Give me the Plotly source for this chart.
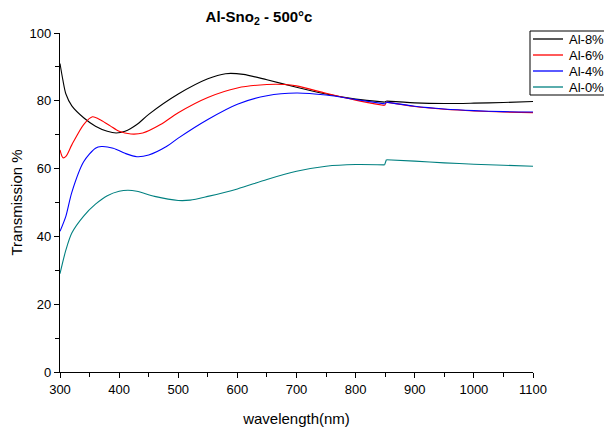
import plotly.graph_objects as go

wl_8 = [300, 305, 310, 320, 340, 360, 380, 395, 410, 430, 450, 500, 550, 580, 610, 650, 700, 750, 800, 849, 852, 900, 950, 1000, 1050, 1100]
t_8 = [91, 86, 82, 78.5, 75, 72.5, 71, 70.5, 71, 73, 76, 82, 86.5, 88, 87.8, 86.2, 84, 82, 80.5, 79.6, 79.9, 79.4, 79.2, 79.3, 79.5, 79.8]

wl_6 = [300, 305, 310, 320, 340, 355, 370, 385, 400, 420, 440, 470, 500, 550, 600, 650, 680, 700, 750, 800, 849, 852, 900, 950, 1000, 1050, 1100]
t_6 = [65.5, 63.2, 63.6, 67, 73, 75.3, 74.2, 72.6, 71, 70.2, 70.5, 73, 76.5, 81, 83.8, 84.8, 84.8, 84.4, 82.2, 80.2, 78.6, 79.6, 78.3, 77.5, 77, 76.7, 76.5]

wl_4 = [300, 310, 320, 340, 360, 370, 390, 410, 430, 450, 480, 500, 550, 600, 650, 700, 750, 800, 849, 852, 900, 950, 1000, 1050, 1100]
t_4 = [41.5, 46, 53, 62, 66, 66.5, 66, 64.5, 63.5, 64, 66.5, 69, 74.5, 79, 81.5, 82.3, 81.7, 80.4, 79.1, 79.6, 78.4, 77.6, 77.1, 76.8, 76.7]

wl_0 = [300, 310, 320, 340, 360, 380, 400, 415, 430, 460, 500, 520, 550, 600, 650, 700, 750, 800, 849, 852, 900, 950, 1000, 1050, 1100]
t_0 = [29, 36, 41, 46, 49.5, 52, 53.3, 53.6, 53.3, 51.8, 50.6, 50.7, 51.8, 54, 56.8, 59.2, 60.7, 61.2, 61.1, 62.6, 62.2, 61.7, 61.3, 61, 60.7]

series = [
    ("Al-8%", wl_8, t_8, "#000000"),
    ("Al-6%", wl_6, t_6, "#ff0000"),
    ("Al-4%", wl_4, t_4, "#0000ff"),
    ("Al-0%", wl_0, t_0, "#008080"),
]

JUMP = 850  # detector change step

# plot area in pixels (for legend placement in paper coordinates)
L, R, T, B = 60, 533, 33, 372
def px(x): return (x - L) / (R - L)
def py(y): return (B - y) / (B - T)

fig = go.Figure()
for name, x, y, c in series:
    k = next(i for i, v in enumerate(x) if v > JUMP)
    pieces = [
        (x[:k], y[:k], "spline"),
        (x[k - 1:k + 1], y[k - 1:k + 1], "linear"),
        (x[k:], y[k:], "spline"),
    ]
    for sx, sy, shp in pieces:
        fig.add_trace(go.Scatter(x=sx, y=sy, name=name, mode="lines", showlegend=False,
                                 line=dict(color=c, width=1.1, shape=shp, smoothing=0.8)))

font = "Liberation Sans, Arial, sans-serif"

# framed legend, drawn at the top right (cut by the page edge as in the reference)
shapes = [dict(type="rect", xref="paper", yref="paper", x0=px(530), x1=px(612), y0=py(95), y1=py(31),
               line=dict(color="#000000", width=1), fillcolor="white", layer="above")]
annotations = []
row_y = [39, 55, 71, 87]
for (name, _, _, c), ry in zip(series, row_y):
    shapes.append(dict(type="line", xref="paper", yref="paper", x0=px(533), x1=px(563), y0=py(ry), y1=py(ry),
                       line=dict(color=c, width=1.3), layer="above"))
    annotations.append(dict(text=name, xref="paper", yref="paper", x=px(567), y=py(ry + 0.5), xanchor="left",
                            yanchor="middle", showarrow=False, font=dict(size=13, family=font, color="#000000")))

fig.update_layout(
    width=604, height=430,
    margin=dict(l=L, r=604 - R, t=T, b=430 - B, autoexpand=False),
    paper_bgcolor="white", plot_bgcolor="white",
    font=dict(family=font, color="#000000", size=13),
    title=dict(text="<b>Al-Sno<sub>2</sub> - 500°c</b>", x=259/604, xanchor="center",
               y=1 - 17/430, yanchor="middle", font=dict(size=15, family=font)),
    showlegend=False,
    shapes=shapes,
    annotations=annotations,
    xaxis=dict(range=[300, 1100], tickvals=[300, 400, 500, 600, 700, 800, 900, 1000, 1100],
               showline=True, linecolor="#000000", linewidth=1.3, mirror=False,
               ticks="outside", ticklen=5, tickwidth=1.2, tickcolor="#000000",
               minor=dict(dtick=50, ticks="outside", ticklen=4, tickwidth=1.2, tickcolor="#000000", showgrid=False),
               showgrid=False, zeroline=False,
               title=dict(text="wavelength(nm)", font=dict(size=15, family=font), standoff=17),
               tickfont=dict(size=13)),
    yaxis=dict(range=[0, 100], tickvals=[0, 20, 40, 60, 80, 100],
               showline=True, linecolor="#000000", linewidth=1.3, mirror=False,
               ticks="outside", ticklen=5, tickwidth=1.2, tickcolor="#000000",
               minor=dict(dtick=10, ticks="outside", ticklen=4, tickwidth=1.2, tickcolor="#000000", showgrid=False),
               showgrid=False, zeroline=False,
               title=dict(text="Transmission %", font=dict(size=15, family=font), standoff=3),
               tickfont=dict(size=13)),
)

fig.write_html("out.html")
